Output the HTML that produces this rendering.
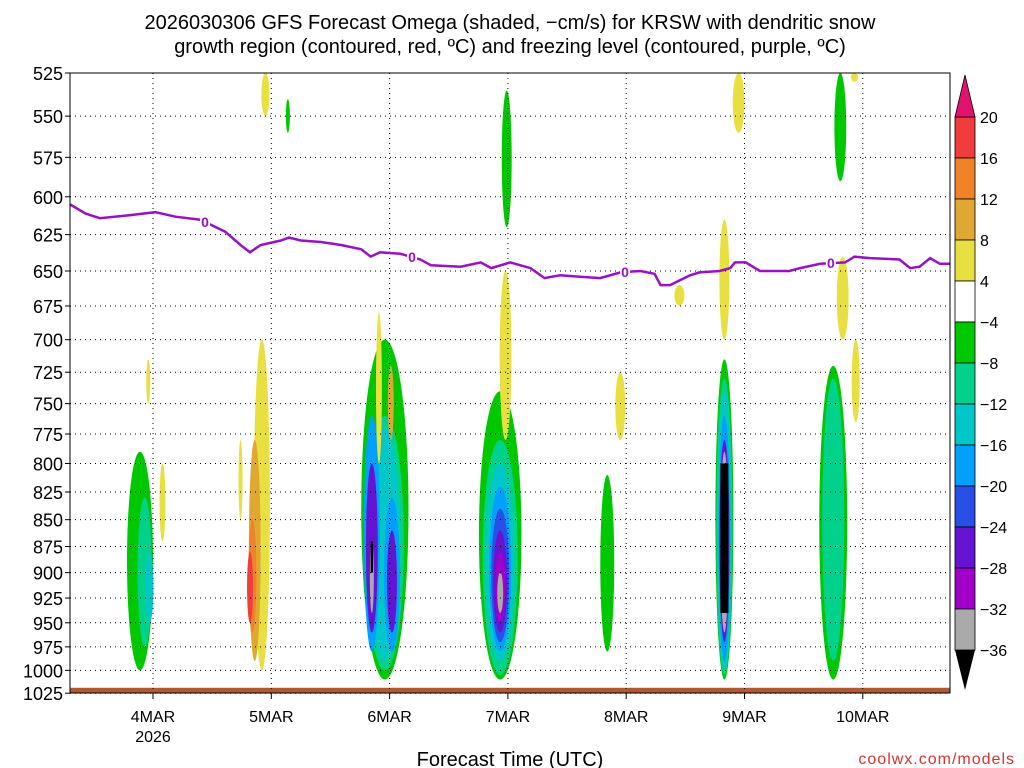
<!DOCTYPE html>
<html><head><meta charset="utf-8"><style>
body{margin:0;background:#fff;}
svg{display:block;font-family:"Liberation Sans",sans-serif;}
</style></head><body>
<svg id="chart" width="1024" height="768" viewBox="0 0 1024 768">
<text x="510" y="29" font-size="20" text-anchor="middle" fill="#000">2026030306 GFS Forecast Omega (shaded, −cm/s) for KRSW with dendritic snow</text>
<text x="510" y="53" font-size="20" text-anchor="middle" fill="#000">growth region (contoured, red, ºC) and freezing level (contoured, purple, ºC)</text>
<g id="plot"></g>
<text x="510" y="766" font-size="20" text-anchor="middle">Forecast Time (UTC)</text>
<text x="1015" y="764" font-size="16" text-anchor="end" fill="#e03030" letter-spacing="1">coolwx.com/models</text>
</svg>
<script>
// data
const pressureTicks=[525,550,575,600,625,650,675,700,725,750,775,800,825,850,875,900,925,950,975,1000,1025];
const dayTicks=[0,1,2,3,4,5,6];
const dayLabels=["4MAR","5MAR","6MAR","7MAR","8MAR","9MAR","10MAR"];
const cbLevels=[20,16,12,8,4,-4,-8,-12,-16,-20,-24,-28,-32,-36];
const cbColors=["#f03c3c","#f08228","#e0a832","#e8e040","#ffffff","#00c800","#00d28c","#00c8c8","#00a0ff","#2850e6","#6414d2","#a000c8","#aaaaaa"];
// freezing level: time (days since 4MAR 00Z) and pressure (hPa)
const fzDays=[-0.7,-0.57,-0.45,-0.19,0.02,0.19,0.4,0.61,0.74,0.82,0.91,1.08,1.15,1.25,1.42,1.59,1.76,1.84,1.92,2.09,2.26,2.35,2.6,2.77,2.86,3.02,3.19,3.31,3.44,3.61,3.78,3.95,4.12,4.24,4.29,4.37,4.54,4.62,4.79,4.88,4.92,5.01,5.13,5.38,5.47,5.64,5.85,5.93,6.06,6.31,6.4,6.48,6.57,6.65,6.74];
const fzPress=[605,611,614,612,610,613,615,623,632,637,632,629,627,629,630,632,635,640,637,638,642,646,647,644,648,644,648,655,653,654,655,651,650,652,660,660,653,651,650,648,644,644,650,650,648,645,644,640,641,642,648,647,641,645,645];
const fzLabelDays=[0.44,2.19,3.99,5.73];
// omega blobs: center day, top hPa, bottom hPa, half-width (days), color index
const blobDay=[-0.11,-0.07,-0.03,0.08,-0.04, 0.92,0.86,0.84,0.82,0.74,0.95,1.14,
 1.96,1.96,1.96,1.85,2.02,1.85,2.02,1.85,1.91,2.01,
 2.935,2.935,2.935,2.935,2.935,2.935,2.935,2.935,2.98,2.99,
 3.84,3.95,
 4.83,4.83,4.83,4.83,4.83,4.83,4.83,4.95,4.45,
 5.75,5.75,5.81,5.83,5.94,5.93];
const blobTop=[790,830,880,800,715, 700,780,850,880,780,525,540,
 700,760,770,760,830,800,860,870,680,720,
 740,780,800,820,840,860,880,900,650,535,
 810,725,
 715,730,740,760,780,790,615,525,660,
 720,730,525,640,700,525];
const blobBot=[1000,975,950,870,750, 1000,990,960,950,850,550,560,
 1010,1000,990,980,980,960,960,940,800,780,
 1010,1005,990,980,970,960,950,940,780,620,
 980,780,
 1010,1005,1000,990,970,960,700,560,675,
 1010,990,590,700,765,530];
const blobHW=[0.11,0.06,0.034,0.025,0.017, 0.068,0.05,0.034,0.025,0.017,0.034,0.017,
 0.2,0.16,0.125,0.068,0.068,0.05,0.042,0.017,0.025,0.025,
 0.18,0.148,0.118,0.093,0.076,0.059,0.042,0.025,0.05,0.042,
 0.059,0.042,
 0.076,0.068,0.059,0.05,0.042,0.034,0.042,0.05,0.042,
 0.118,0.093,0.05,0.05,0.034,0.03];
const blobColor=[5,6,7,3,3, 3,2,1,0,3,3,5,
 5,6,7,8,8,10,10,12,3,2,
 5,6,7,8,9,10,11,12,3,5,
 5,3,
 5,6,7,8,10,12,3,3,3,
 5,6,5,3,3,3];
const blackDay=[4.83,1.85], blackTop=[800,870], blackBot=[940,900], blackHW=[0.034,0.01];

const NS="http://www.w3.org/2000/svg";
const L=70,R=950,T=73,B=693;
const y=p=>T+Math.log(p/525)*927;
const x=d=>153+d*118.3;
const g=document.getElementById('plot');
const svg=document.getElementById('chart');
function mk(t,a,parent){const e=document.createElementNS(NS,t);for(const k in a)e.setAttribute(k,a[k]);(parent||g).appendChild(e);return e;}

// blobs
for(let i=0;i<blobDay.length;i++){
 const yt=y(blobTop[i]),yb=y(blobBot[i]);
 const e=mk('ellipse',{cx:x(blobDay[i]),cy:(yt+yb)/2,rx:blobHW[i]*118.3,ry:(yb-yt)/2,fill:cbColors[blobColor[i]]});
 
 
}
for(let i=0;i<blackDay.length;i++){
 const yt=y(blackTop[i]),yb=y(blackBot[i]);
 const e=mk('rect',{x:x(blackDay[i])-blackHW[i]*118.3,y:yt,width:2*blackHW[i]*118.3,height:yb-yt,fill:"#000"});
 
 
}
// surface band
const sb=mk('rect',{x:L,y:y(1019),width:R-L,height:B-y(1019),fill:"#b05a32"});



// grid
pressureTicks.forEach(p=>{
 const l=mk('line',{x1:L,x2:R,y1:y(p),y2:y(p),stroke:"#000","stroke-width":1,"stroke-dasharray":"1,4"});
 
 
 const t=mk('text',{x:63,y:y(p)+7,"font-size":18,"text-anchor":"end"});
 t.textContent=p;
 
 
 const tk=mk('line',{x1:L-5,x2:L,y1:y(p),y2:y(p),stroke:"#000"});
 
 
});
dayTicks.forEach((d,i)=>{
 const l=mk('line',{x1:x(d),x2:x(d),y1:T,y2:B,stroke:"#000","stroke-width":1,"stroke-dasharray":"1,4"});
 
 
 const tk=mk('line',{x1:x(d),x2:x(d),y1:B,y2:B+6,stroke:"#000"});
 
 
 const t=mk('text',{x:x(d),y:722,"font-size":16,"text-anchor":"middle"});
 t.textContent=dayLabels[i];
 
 
});
const yr=mk('text',{x:x(0),y:742,"font-size":16,"text-anchor":"middle"});
yr.textContent="2026";



// freezing line
const pts=fzDays.map((d,i)=>x(d).toFixed(1)+","+y(fzPress[i]).toFixed(1)).join(" ");
const pl=mk('polyline',{points:pts,fill:"none",stroke:"#9a10c8","stroke-width":2.5});


function interp(d){for(let i=1;i<fzDays.length;i++){if(fzDays[i]>=d){const f=(d-fzDays[i-1])/(fzDays[i]-fzDays[i-1]);return fzPress[i-1]+f*(fzPress[i]-fzPress[i-1]);}}return fzPress[fzPress.length-1];}
fzLabelDays.forEach(d=>{
 const yy=y(interp(d));
 const r=mk('rect',{x:x(d)-5,y:yy-8,width:10,height:16,fill:"#fff"});
 
 
 const t=mk('text',{x:x(d),y:yy+5,"font-size":14,"font-weight":"bold","text-anchor":"middle",fill:"#9a10c8"});
 t.textContent="0";
 
 
});
// frame
const fr=mk('rect',{x:L,y:T,width:R-L,height:B-T,fill:"none",stroke:"#000","stroke-width":1});



// colorbar
const cbX=955,cbW=20,cbTop=117,cbStep=41;
const cy=i=>cbTop+i*cbStep;
for(let i=0;i<cbColors.length;i++){
 const r=mk('rect',{x:cbX,y:cy(i),width:cbW,height:cbStep,fill:cbColors[i],stroke:"#000","stroke-width":0.8},svg);
 
 
}
const tri1=mk('polygon',{points:`${cbX},${cy(0)} ${cbX+cbW},${cy(0)} ${cbX+cbW/2},75`,fill:"#e0146e",stroke:"#000","stroke-width":0.8},svg);


const last=cy(cbColors.length);
const tri2=mk('polygon',{points:`${cbX},${last} ${cbX+cbW},${last} ${cbX+cbW/2},690`,fill:"#000"},svg);


cbLevels.forEach((v,i)=>{
 const t=mk('text',{x:980,y:cy(i)+6,"font-size":16},svg);
 t.textContent=v<0?"−"+(-v):v;
 
 
});
</script>
</body></html>
